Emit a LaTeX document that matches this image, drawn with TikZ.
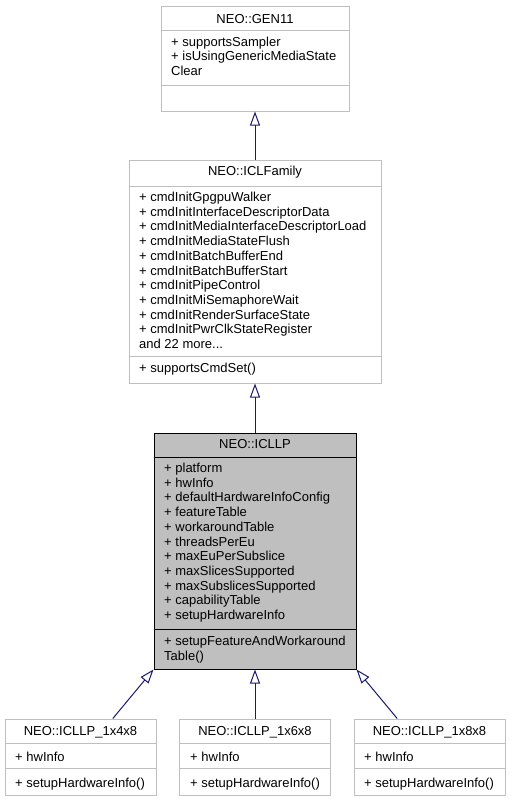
\documentclass[tikz,border=0pt]{standalone}
\usepackage{fontspec}
\setmainfont{Liberation Sans}
\usetikzlibrary{arrows.meta}
\definecolor{edgeblue}{HTML}{191970}
\definecolor{boxgray}{HTML}{BFBFBF}
\tikzset{
  classbox/.style={draw=boxgray, line width=1pt, inner sep=0pt},
  curbox/.style={draw=black, fill=boxgray, line width=1pt, inner sep=0pt},
  txt/.style={inner sep=0pt, font=\fontsize{13}{14.7}\selectfont, align=left},
  inherit/.style={draw=edgeblue, line width=1pt, -{Triangle[open, length=14pt, width=10pt]}}
}
\begin{document}
\begin{tikzpicture}[x=1pt, y=-1pt]
    \useasboundingbox (0,0) rectangle (511,801);
    % NEO::GEN11
    \node[classbox, minimum width=188pt, minimum height=105pt] (gen) at (255,58.5) {};
    \draw[boxgray, line width=1pt] ([yshift=-25pt]gen.north west) -- ([yshift=-25pt]gen.north east);
    \draw[boxgray, line width=1pt] ([yshift=-80pt]gen.north west) -- ([yshift=-80pt]gen.north east);
    \node[txt, anchor=base] (gen-t) at (255,23.5) {NEO::GEN11};
    % multi-line nodes: base = last line
    \node[txt, anchor=base west] (gen-a) at (171,75.4) {+ supportsSampler\\+ isUsingGenericMediaState\\Clear};
    % NEO::ICLFamily
    \node[classbox, minimum width=252pt, minimum height=223pt] (fam) at (255,271.5) {};
    \draw[boxgray, line width=1pt] ([yshift=-27pt]fam.north west) -- ([yshift=-27pt]fam.north east);
    \draw[boxgray, line width=1pt] ([yshift=-197pt]fam.north west) -- ([yshift=-197pt]fam.north east);
    \node[txt, anchor=base] (fam-t) at (255,175.5) {NEO::ICLFamily};
    \node[txt, anchor=base west] (fam-a) at (139,348.5) {+ cmdInitGpgpuWalker\\+ cmdInitInterfaceDescriptorData\\+ cmdInitMediaInterfaceDescriptorLoad\\+ cmdInitMediaStateFlush\\+ cmdInitBatchBufferEnd\\+ cmdInitBatchBufferStart\\+ cmdInitPipeControl\\+ cmdInitMiSemaphoreWait\\+ cmdInitRenderSurfaceState\\+ cmdInitPwrClkStateRegister\\and 22 more...};
    \node[txt, anchor=base west] (fam-o) at (139,372.5) {+ supportsCmdSet()};
    % NEO::ICLLP
    \node[curbox, minimum width=202pt, minimum height=236pt] (icllp) at (255,551) {};
    \draw[line width=1pt] ([yshift=-25pt]icllp.north west) -- ([yshift=-25pt]icllp.north east);
    \draw[line width=1pt] ([yshift=-197pt]icllp.north west) -- ([yshift=-197pt]icllp.north east);
    \node[txt, anchor=base] (icllp-t) at (255,448.7) {NEO::ICLLP};
    \node[txt, anchor=base west] (icllp-a) at (164,619.5) {+ platform\\+ hwInfo\\+ defaultHardwareInfoConfig\\+ featureTable\\+ workaroundTable\\+ threadsPerEu\\+ maxEuPerSubslice\\+ maxSlicesSupported\\+ maxSubslicesSupported\\+ capabilityTable\\+ setupHardwareInfo};
    \node[txt, anchor=base west] (icllp-o) at (164,660.2) {+ setupFeatureAndWorkaround\\Table()};
    % NEO::ICLLP_1x4x8, _1x6x8, _1x8x8
    \foreach \nm/\cx/\tx/\lbl in {p148/80.5/15/1x4x8, p168/255/190/1x6x8, p188/429.5/364/1x8x8} {
        \node[classbox, minimum width=151pt, minimum height=76pt] (\nm) at (\cx,757) {};
        \draw[boxgray, line width=1pt] ([yshift=-25pt]\nm.north west) -- ([yshift=-25pt]\nm.north east);
        \draw[boxgray, line width=1pt] ([yshift=-50pt]\nm.north west) -- ([yshift=-50pt]\nm.north east);
        \node[txt, anchor=base] (\nm-t) at (\cx,735.5) {NEO::ICLLP\_\lbl};
        \node[txt, anchor=base west] (\nm-a) at (\tx,761) {+ hwInfo};
        \node[txt, anchor=base west] (\nm-o) at (\tx,787) {+ setupHardwareInfo()};
    }
    % inheritance
    \draw[inherit] (fam.north) -- (gen.south);
    \draw[inherit] (icllp.north) -- (fam.south);
    \draw[inherit] (p148.50) -- (icllp.south west);
    \draw[inherit] (p168.north) -- (icllp.south);
    \draw[inherit] (p188.130) -- (icllp.south east);
\end{tikzpicture}
\end{document}
